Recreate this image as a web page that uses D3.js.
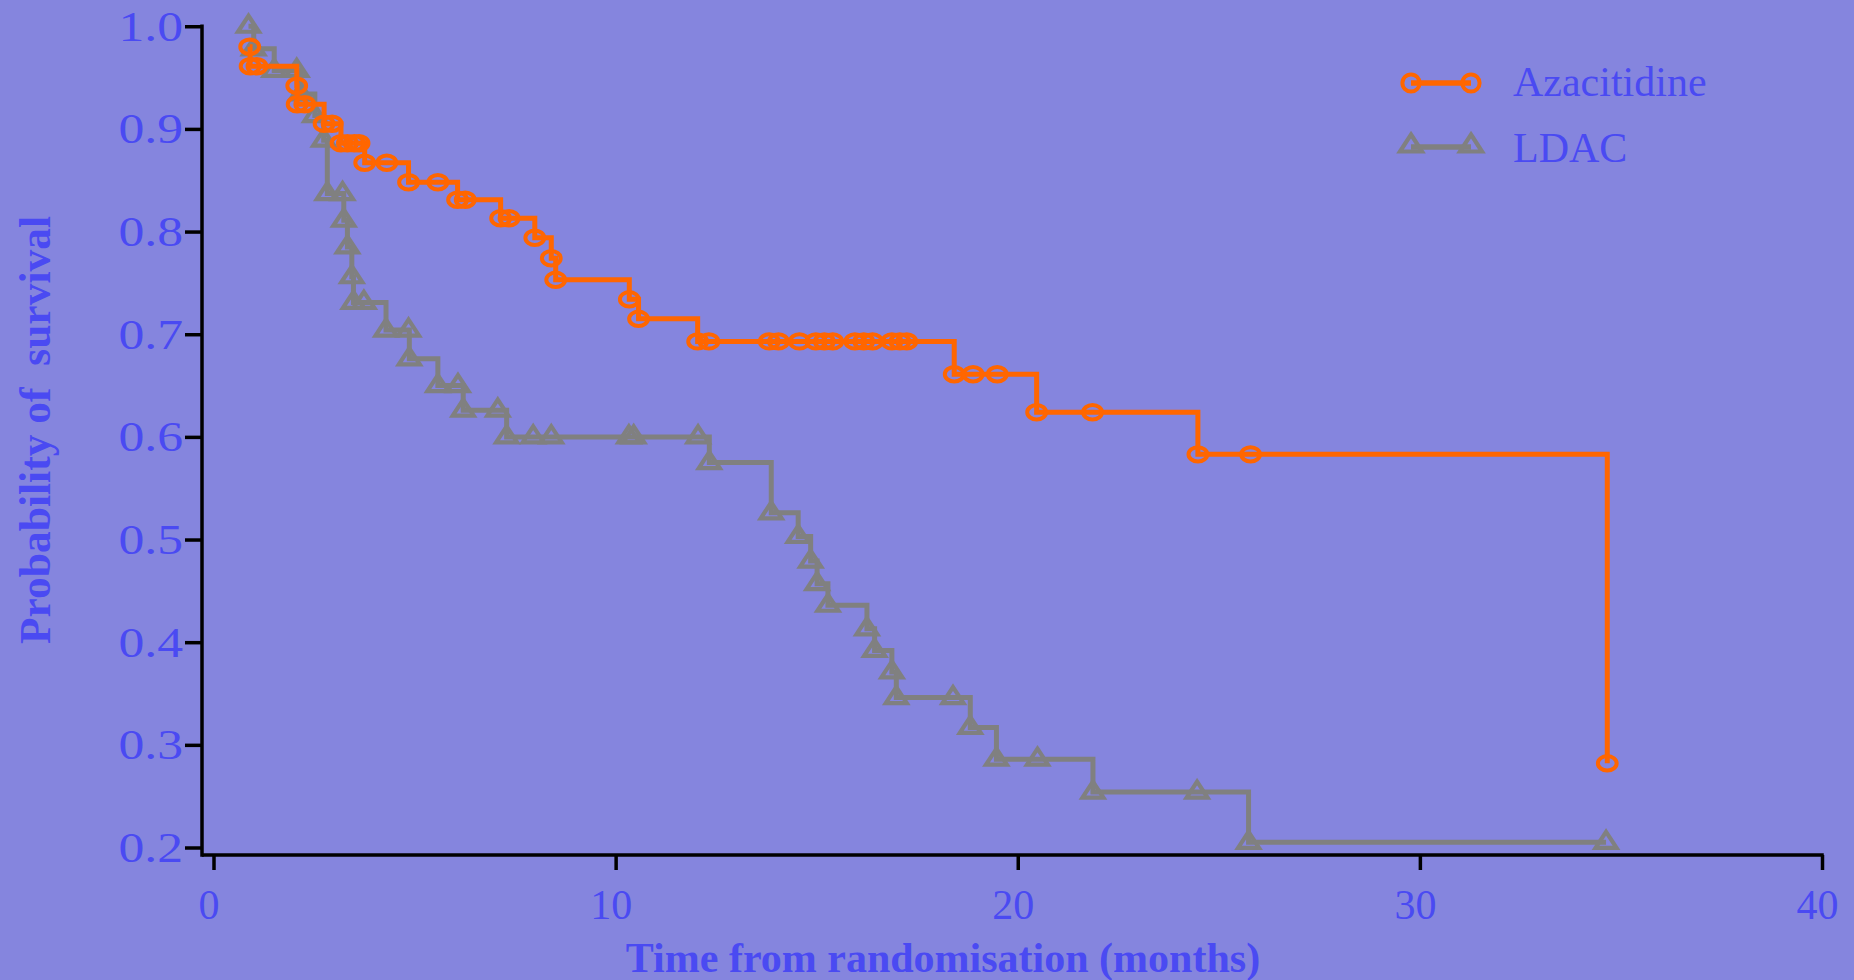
<!DOCTYPE html>
<html>
<head>
<meta charset="utf-8">
<script src="https://cdn.jsdelivr.net/npm/d3@7"></script>
<style>
  html, body { margin: 0; padding: 0; background: #8585de; }
  svg { display: block; }
  text { font-family: "Liberation Serif", "Times New Roman", serif; }
</style>
</head>
<body>
<svg id="chart" width="1854" height="980"></svg>
<script>
// Kaplan-Meier survival estimates, one point per event / censoring time
const azaTime = [0.90, 0.91, 1.08, 2.07, 2.08, 2.27, 2.75, 2.95, 3.17, 3.33, 3.50, 3.62, 3.76, 4.31,
  4.85, 5.58, 6.07, 6.26, 7.14, 7.35, 7.99, 8.40, 8.51, 10.34, 10.57, 12.04, 12.32, 13.82, 14.05,
  14.57, 14.98, 15.19, 15.40, 15.95, 16.17, 16.39, 16.87, 17.07, 17.24, 18.42, 18.89, 19.49,
  20.47, 21.86, 24.48, 25.79, 34.66];
const azaSurv = [0.980, 0.961, 0.961, 0.942, 0.924, 0.924, 0.905, 0.905, 0.886, 0.886, 0.886, 0.886,
  0.867, 0.867, 0.848, 0.848, 0.831, 0.831, 0.813, 0.813, 0.794, 0.774, 0.753, 0.734, 0.715, 0.693,
  0.693, 0.693, 0.693, 0.693, 0.693, 0.693, 0.693, 0.693, 0.693, 0.693, 0.693, 0.693, 0.693, 0.661,
  0.661, 0.661, 0.624, 0.624, 0.583, 0.583, 0.282];

const ldacTime = [0.87, 1.00, 1.51, 2.07, 2.17, 2.52, 2.74, 2.83, 3.21, 3.24, 3.33, 3.44, 3.48, 3.74,
  4.29, 4.85, 4.87, 5.58, 6.08, 6.21, 7.07, 7.29, 7.95, 8.40, 10.33, 10.45, 12.05, 12.33, 13.87,
  14.54, 14.85, 15.01, 15.28, 16.25, 16.44, 16.87, 16.98, 18.39, 18.82, 19.47, 20.49, 21.87, 24.46,
  25.74, 34.63];
const ldacSurv = [1.000, 0.978, 0.957, 0.957, 0.934, 0.913, 0.889, 0.837, 0.837, 0.811, 0.785, 0.756,
  0.731, 0.731, 0.704, 0.704, 0.676, 0.650, 0.650, 0.626, 0.626, 0.600, 0.600, 0.600, 0.600, 0.600,
  0.600, 0.575, 0.526, 0.503, 0.479, 0.457, 0.436, 0.413, 0.392, 0.371, 0.346, 0.346, 0.317, 0.286,
  0.286, 0.254, 0.254, 0.205, 0.205];

const seriesNames = ["Azacitidine", "LDAC"];
const seriesColors = ["#ff6600", "#808080"];
const xTicks = [0, 10, 20, 30, 40];
const yTicks = [0.2, 0.3, 0.4, 0.5, 0.6, 0.7, 0.8, 0.9, 1.0];
const xTitle = "Time from randomisation (months)";
const yTitle = "Probability of  survival";

const textBlue = "#4a4af2";
const svg = d3.select("#chart");

const x = d3.scaleLinear().domain([0, 40]).range([213.5, 1822]);
const y = d3.scaleLinear().domain([0.2, 1.0]).range([847.5, 26.25]);

const axisX = 202;   // position of the vertical axis line
const axisY = 855;   // position of the horizontal axis line

// ---- axes ----
const yAxis = d3.axisLeft(y).tickValues(yTicks).tickFormat(d3.format(".1f"))
  .tickSize(17).tickSizeOuter(0);
const gy = svg.append("g").attr("transform", `translate(${axisX},0)`).call(yAxis);
gy.select(".domain").remove();
gy.selectAll(".tick line").attr("stroke", "#000").attr("stroke-width", 3.5);
// the value labels are drawn with a wide, stretched face
gy.selectAll(".tick text")
  .attr("x", null).attr("dy", null).attr("y", null)
  .attr("transform", "translate(-19,14) scale(1.23,1)")
  .attr("fill", textBlue).attr("font-size", 42)
  .attr("font-family", "Liberation Serif, Times New Roman, serif");

const xAxis = d3.axisBottom(x).tickValues(xTicks).tickFormat(d3.format("d"))
  .tickSize(15).tickSizeOuter(0);
const gx = svg.append("g").attr("transform", `translate(0,${axisY})`).call(xAxis);
gx.select(".domain").remove();
gx.selectAll(".tick line").attr("stroke", "#000").attr("stroke-width", 3.5);
gx.selectAll(".tick text")
  .attr("y", 64).attr("dy", null).attr("x", -5)
  .attr("fill", textBlue).attr("font-size", 42)
  .attr("font-family", "Liberation Serif, Times New Roman, serif");

svg.append("line").attr("x1", axisX).attr("x2", axisX)
  .attr("y1", y(1.0) - 1.75).attr("y2", axisY + 1.75)
  .attr("stroke", "#000").attr("stroke-width", 3.5);
svg.append("line").attr("x1", axisX).attr("x2", x(40) + 1.75)
  .attr("y1", axisY).attr("y2", axisY)
  .attr("stroke", "#000").attr("stroke-width", 3.5);

// ---- axis titles ----
svg.append("text")
  .attr("x", 943).attr("y", 972)
  .attr("text-anchor", "middle")
  .attr("font-weight", "bold").attr("font-size", 42)
  .attr("fill", textBlue)
  .text(xTitle);

svg.append("text")
  .attr("transform", "translate(50,430) rotate(-90)")
  .attr("text-anchor", "middle")
  .attr("font-weight", "bold").attr("font-size", 43.5)
  .attr("fill", textBlue)
  .style("white-space", "pre")
  .text(yTitle);

// ---- survival curves ----
const step = d3.line().x(d => x(d[0])).y(d => y(d[1])).curve(d3.curveStepAfter);
const triPath = "M0,-10.5L10.5,5.5L-10.5,5.5Z";

function drawSeries(times, surv, color, marker) {
  const pts = times.map((t, i) => [t, surv[i]]);
  const g = svg.append("g");
  g.append("path").datum(pts)
    .attr("d", step)
    .attr("fill", "none").attr("stroke", color)
    .attr("stroke-width", 5).attr("stroke-linejoin", "miter");
  if (marker === "circle") {
    g.selectAll("ellipse").data(pts).join("ellipse")
      .attr("cx", d => x(d[0])).attr("cy", d => y(d[1]))
      .attr("rx", 9.4).attr("ry", 7.2)
      .attr("fill", "none").attr("stroke", color).attr("stroke-width", 4);
  } else {
    g.selectAll("path.m").data(pts).join("path").attr("class", "m")
      .attr("transform", d => `translate(${x(d[0])},${y(d[1])})`)
      .attr("d", triPath)
      .attr("fill", "none").attr("stroke", color).attr("stroke-width", 4.2);
  }
}

drawSeries(ldacTime, ldacSurv, seriesColors[1], "triangle");
drawSeries(azaTime, azaSurv, seriesColors[0], "circle");

// ---- legend ----
const legend = svg.append("g");
const legendRows = [
  { name: seriesNames[0], color: seriesColors[0], marker: "circle", ly: 83, ty: 96 },
  { name: seriesNames[1], color: seriesColors[1], marker: "triangle", ly: 147, ty: 162 }
];
legendRows.forEach(r => {
  legend.append("line")
    .attr("x1", 1411).attr("x2", 1471).attr("y1", r.ly).attr("y2", r.ly)
    .attr("stroke", r.color).attr("stroke-width", 5.5);
  [1411, 1471].forEach(cx => {
    if (r.marker === "circle") {
      legend.append("circle").attr("cx", cx).attr("cy", r.ly).attr("r", 8.6)
        .attr("fill", "none").attr("stroke", r.color).attr("stroke-width", 4);
    } else {
      legend.append("path").attr("transform", `translate(${cx},${r.ly - 2})`)
        .attr("d", "M0,-10.5L11,6.5L-11,6.5Z")
        .attr("fill", "none").attr("stroke", r.color).attr("stroke-width", 4.2);
    }
  });
  legend.append("text").attr("x", 1513).attr("y", r.ty)
    .attr("font-size", 42).attr("fill", textBlue).text(r.name);
});
</script>
</body>
</html>
